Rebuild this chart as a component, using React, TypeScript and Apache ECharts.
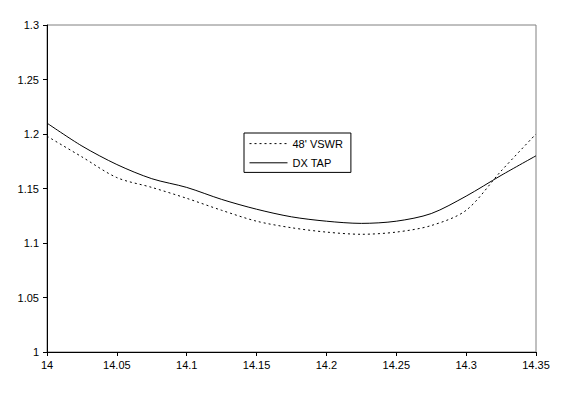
import React, { useEffect, useRef } from "react";
import * as echarts from "echarts";

const freqs = [14.0, 14.025, 14.05, 14.075, 14.1, 14.125, 14.15, 14.175, 14.2, 14.225, 14.25, 14.275, 14.3, 14.325, 14.35];
const vswr48 = [1.198, 1.179, 1.16, 1.151, 1.141, 1.13, 1.12, 1.114, 1.11, 1.108, 1.11, 1.116, 1.13, 1.166, 1.2];
const dxTap = [1.21, 1.189, 1.172, 1.159, 1.151, 1.14, 1.131, 1.124, 1.12, 1.118, 1.12, 1.127, 1.143, 1.162, 1.18];
const seriesNames = ["48' VSWR", "DX TAP"];

const fmt = (v: number) => String(parseFloat(v.toFixed(2)));

export default function App() {
  const ref = useRef<HTMLDivElement>(null);
  useEffect(() => {
    if (!ref.current) return;
    const chart = echarts.init(ref.current, undefined, { renderer: "svg" });
    const font = "Liberation Sans, Arial, sans-serif";
    chart.setOption({
      animation: false,
      backgroundColor: "#ffffff",
      color: ["#000", "#000"],
      textStyle: { fontFamily: font },
      grid: {
        left: 47,
        right: 35,
        top: 25,
        bottom: 42,
        show: true,
        borderColor: "#808080",
        borderWidth: 1,
      },
      legend: {
        orient: "vertical",
        left: 244,
        top: 133,
        borderColor: "#000",
        borderWidth: 1,
        padding: [5, 8, 4, 5],
        itemWidth: 38,
        itemHeight: 14,
        itemGap: 8,
        itemStyle: { opacity: 0 },
        lineStyle: { width: 1 },
        textStyle: { fontFamily: font, fontSize: 11, color: "#000" },
        data: seriesNames,
      },
      xAxis: {
        type: "value",
        min: 14,
        max: 14.35,
        interval: 0.05,
        axisLine: { lineStyle: { color: "#000", width: 1 } },
        axisTick: { show: true, length: 4, lineStyle: { color: "#000" } },
        axisLabel: { color: "#000", fontSize: 11, fontFamily: font, margin: 7, formatter: fmt },
        splitLine: { show: false },
      },
      yAxis: {
        type: "value",
        min: 1,
        max: 1.3,
        interval: 0.05,
        axisLine: { show: true, lineStyle: { color: "#000", width: 1 } },
        axisTick: { show: true, length: 4, lineStyle: { color: "#000" } },
        axisLabel: { color: "#000", fontSize: 11, fontFamily: font, margin: 8, formatter: fmt },
        splitLine: { show: false },
      },
      series: [
        {
          name: seriesNames[0],
          type: "line",
          symbol: "none",
          smooth: 0.3,
          data: freqs.map((f, i) => [f, vswr48[i]]),
          itemStyle: { color: "#000" },
          lineStyle: { color: "#000", width: 1, type: [2, 3] },
        },
        {
          name: seriesNames[1],
          type: "line",
          symbol: "none",
          smooth: 0.3,
          data: freqs.map((f, i) => [f, dxTap[i]]),
          itemStyle: { color: "#000" },
          lineStyle: { color: "#000", width: 1, type: "solid" },
        },
      ],
    });
    return () => chart.dispose();
  }, []);
  return (
    <div
      ref={ref}
      style={{ position: "fixed", left: 0, top: 0, width: 571, height: 394, background: "#fff" }}
    />
  );
}
